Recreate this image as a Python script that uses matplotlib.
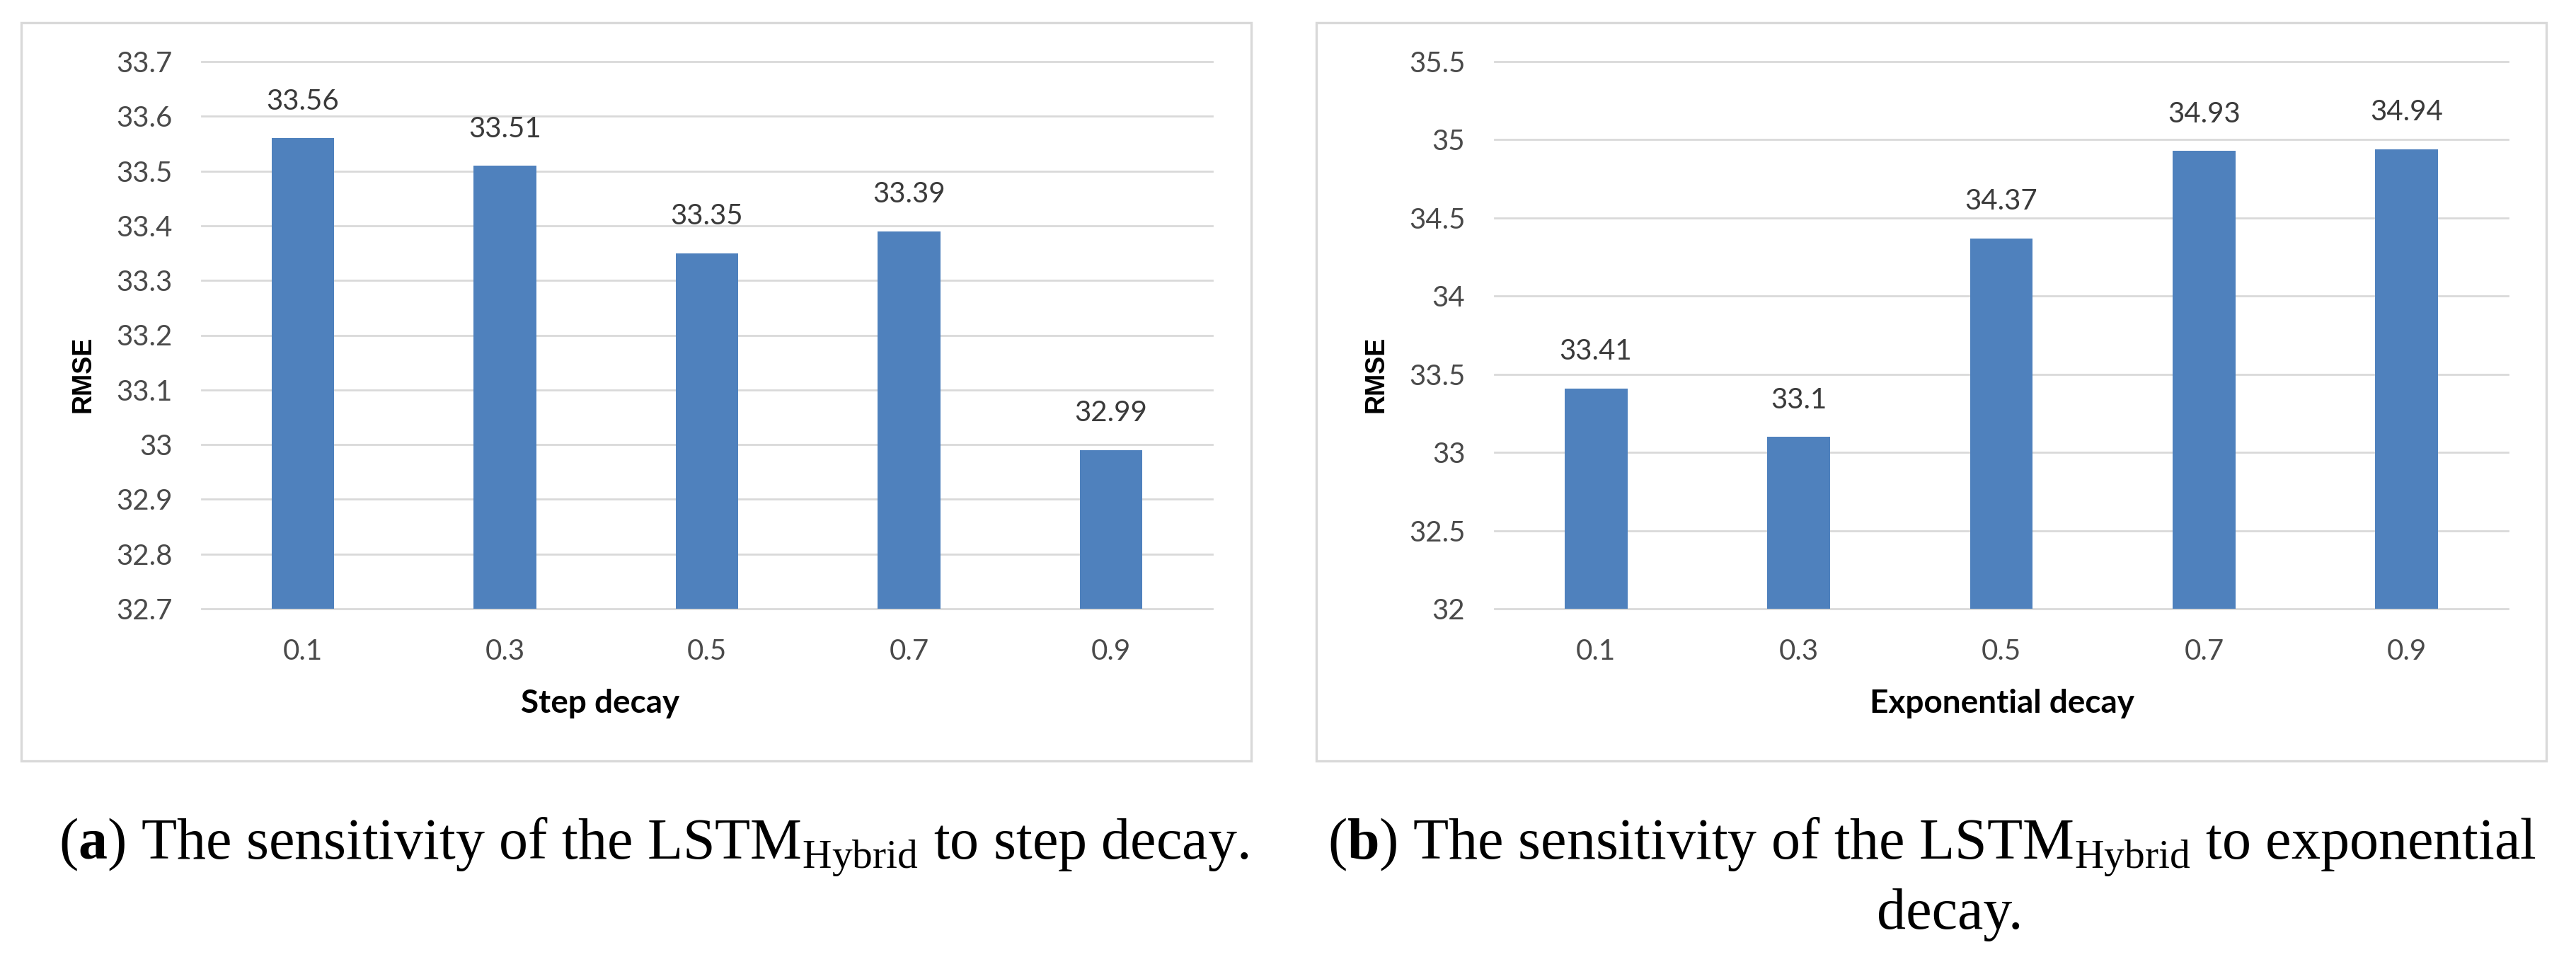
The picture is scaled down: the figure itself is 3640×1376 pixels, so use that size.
import matplotlib.pyplot as plt
from matplotlib.patches import Rectangle
from matplotlib.ticker import FuncFormatter

# - Data
decay_rates = ['0.1', '0.3', '0.5', '0.7', '0.9']
step_rmse = [33.56, 33.51, 33.35, 33.39, 32.99]
exp_rmse = [33.41, 33.1, 34.37, 34.93, 34.94]
step_yticks = [32.7, 32.8, 32.9, 33.0, 33.1, 33.2, 33.3, 33.4, 33.5, 33.6, 33.7]
exp_yticks = [32.0, 32.5, 33.0, 33.5, 34.0, 34.5, 35.0, 35.5]

W, H = 3640, 1376
DPI = 200

plt.rcParams['font.family'] = ['Lato', 'DejaVu Sans']
plt.rcParams['mathtext.fontset'] = 'custom'
plt.rcParams['mathtext.rm'] = 'Liberation Serif'
plt.rcParams['mathtext.bf'] = 'Liberation Serif:bold'

bar_color = '#4F81BD'
grid_color = '#D9D9D9'
tick_color = '#4A4A4A'
label_color = '#3A3A3A'

fig = plt.figure(figsize=(W / DPI, H / DPI), dpi=DPI)


def px_axes(x0, x1, y0, y1):
    # pixel box (top-left origin) -> figure fraction axes
    return fig.add_axes([x0 / W, 1 - y1 / H, (x1 - x0) / W, (y1 - y0) / H])


def draw_panel(ax, values, yticks, xlabel, xlabel_x):
    bars = ax.bar(decay_rates, values, width=0.31, color=bar_color, zorder=2)
    ax.set_ylim(yticks[0], yticks[-1])
    ax.set_xlim(-0.5, len(decay_rates) - 0.5)
    ax.set_yticks(yticks)
    ax.yaxis.set_major_formatter(FuncFormatter(lambda v, pos: '%g' % round(v, 2)))
    ax.bar_label(bars, labels=['%g' % v for v in values], padding=12,
                 fontsize=14.5, color=label_color)
    # -- Grid
    ax.grid(axis='y', color=grid_color, lw=1.0)
    ax.set_axisbelow(True)
    for line in ax.get_ygridlines():
        line.set_clip_on(False)
    # -- Ticks
    ax.tick_params(axis='x', length=0, pad=15, labelsize=14.5, labelcolor=tick_color)
    ax.tick_params(axis='y', length=0, pad=15, labelsize=14.5, labelcolor=tick_color)
    # -- Borders
    for border in ('top', 'bottom', 'left', 'right'):
        ax.spines[border].set_visible(False)
    # -- Labels
    ax.text(-0.117, 0.428, 'RMSE', rotation=90, ha='center', va='center',
            transform=ax.transAxes, fontsize=13.5, fontweight='bold',
            family='Liberation Sans', color='black')
    ax.text(xlabel_x, -0.173, xlabel, ha='center', va='center',
            transform=ax.transAxes, fontsize=16.5, fontweight='bold', color='black')


ax1 = px_axes(285, 1713, 87, 860)
draw_panel(ax1, step_rmse, step_yticks, 'Step decay', 0.394)

ax2 = px_axes(2112, 3544, 87, 860)
draw_panel(ax2, exp_rmse, exp_yticks, 'Exponential decay', 0.501)

# - Panel frames
for x0, x1 in ((30, 1768), (1860, 3598)):
    fig.add_artist(Rectangle((x0 / W, 1 - 1075 / H), (x1 - x0) / W, (1075 - 32) / H,
                             transform=fig.transFigure, fill=False,
                             ec=grid_color, lw=1.2))

# - Captions
cap_kw = dict(ha='center', va='baseline', fontsize=29.5, family='Liberation Serif',
              color='black')
fig.text(924 / W, 1 - 1212 / H,
         r'($\mathbf{a}$) The sensitivity of the LSTM$_{\mathrm{Hybrid}}$ to step decay.',
         **cap_kw)
fig.text(2730 / W, 1 - 1212 / H,
         r'($\mathbf{b}$) The sensitivity of the LSTM$_{\mathrm{Hybrid}}$ to exponential',
         **cap_kw)
fig.text(2755 / W, 1 - 1312 / H, 'decay.', **cap_kw)

fig.savefig('out.png', dpi=DPI, facecolor='white')
